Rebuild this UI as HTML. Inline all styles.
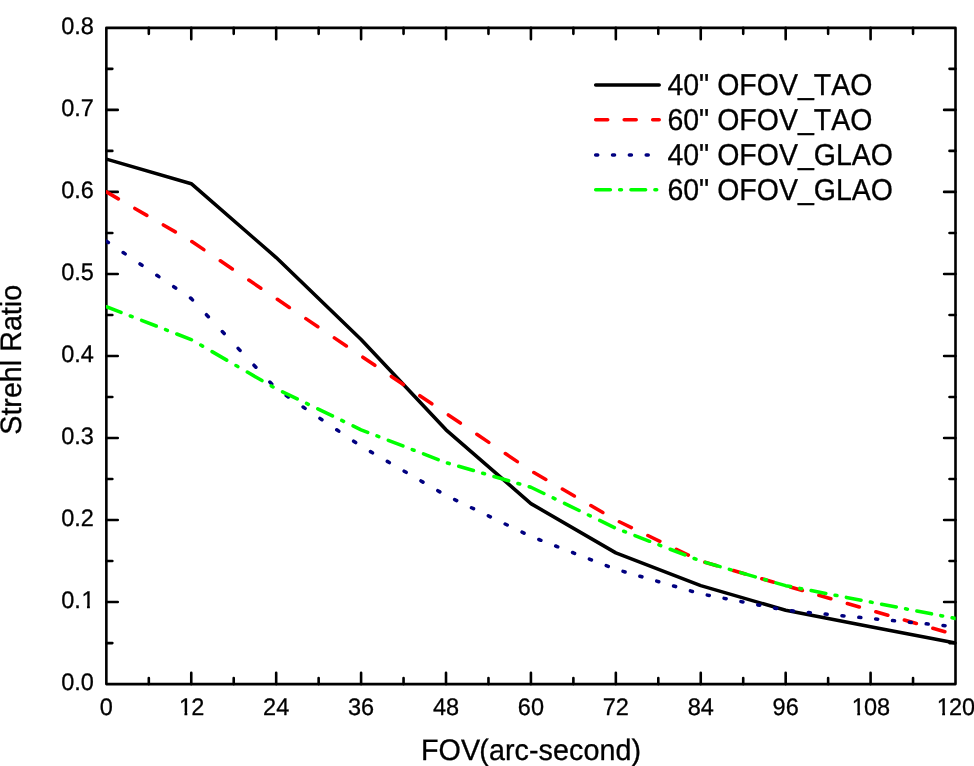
<!DOCTYPE html>
<html><head><meta charset="utf-8"><title>Strehl Ratio vs FOV</title>
<style>html,body{margin:0;padding:0;background:#fff;}body{width:974px;height:766px;overflow:hidden;}svg{display:block;will-change:transform;}text{text-rendering:geometricPrecision;font-family:"Liberation Sans",sans-serif;fill:#000;stroke:#000;stroke-width:0.3px;stroke-linejoin:round;font-kerning:none;}</style></head><body>
<svg width="974" height="766" viewBox="0 0 974 766">
<rect x="0" y="0" width="974" height="766" fill="#ffffff"/>
<rect x="106.35" y="27.85" width="849.15" height="656.25" fill="none" stroke="#000" stroke-width="2.60" stroke-linejoin="round"/>
<path d="M148.81 684.10V678.10M148.81 27.85V33.85M191.26 684.10V672.70M191.26 27.85V39.25M233.72 684.10V678.10M233.72 27.85V33.85M276.18 684.10V672.70M276.18 27.85V39.25M318.64 684.10V678.10M318.64 27.85V33.85M361.09 684.10V672.70M361.09 27.85V39.25M403.55 684.10V678.10M403.55 27.85V33.85M446.01 684.10V672.70M446.01 27.85V39.25M488.47 684.10V678.10M488.47 27.85V33.85M530.92 684.10V672.70M530.92 27.85V39.25M573.38 684.10V678.10M573.38 27.85V33.85M615.84 684.10V672.70M615.84 27.85V39.25M658.30 684.10V678.10M658.30 27.85V33.85M700.75 684.10V672.70M700.75 27.85V39.25M743.21 684.10V678.10M743.21 27.85V33.85M785.67 684.10V672.70M785.67 27.85V39.25M828.13 684.10V678.10M828.13 27.85V33.85M870.59 684.10V672.70M870.59 27.85V39.25M913.04 684.10V678.10M913.04 27.85V33.85M106.35 643.08H112.35M955.50 643.08H949.50M106.35 602.07H117.75M955.50 602.07H944.10M106.35 561.05H112.35M955.50 561.05H949.50M106.35 520.04H117.75M955.50 520.04H944.10M106.35 479.02H112.35M955.50 479.02H949.50M106.35 438.01H117.75M955.50 438.01H944.10M106.35 396.99H112.35M955.50 396.99H949.50M106.35 355.98H117.75M955.50 355.98H944.10M106.35 314.96H112.35M955.50 314.96H949.50M106.35 273.94H117.75M955.50 273.94H944.10M106.35 232.93H112.35M955.50 232.93H949.50M106.35 191.91H117.75M955.50 191.91H944.10M106.35 150.90H112.35M955.50 150.90H949.50M106.35 109.88H117.75M955.50 109.88H944.10M106.35 68.87H112.35M955.50 68.87H949.50" fill="none" stroke="#000" stroke-width="2.60" stroke-linecap="round"/>
<defs><clipPath id="pb"><rect x="106.05" y="27.85" width="849.65" height="656.25"/></clipPath></defs>
<g clip-path="url(#pb)">
<path d="M106.35 159.10L191.26 183.71L276.18 257.54L361.09 339.57L446.01 429.80L530.92 503.63L615.84 552.85L700.75 585.66L785.67 610.27L870.59 626.68L955.50 643.08" fill="none" stroke="#000000" stroke-width="3.55" stroke-linecap="round" stroke-linejoin="round"/>
<path d="M106.35 191.91L118.35 198.87M134.85 208.43L146.85 215.39M163.35 224.95L175.35 231.91M191.85 241.53L203.85 249.64M220.35 260.80L232.35 268.91M248.85 280.07L260.85 288.19M277.35 299.34L289.35 307.46M305.85 318.62L317.85 326.73M334.35 337.89L346.35 346.00M362.85 357.16L374.85 365.28M391.35 376.43L403.35 384.55M419.85 395.71L431.85 403.82M448.35 414.98L460.35 423.09M476.85 434.25L488.85 442.37M505.35 453.52L517.35 461.64M533.85 472.51L545.85 479.47M562.35 489.03L574.35 495.99M590.85 505.55L602.85 512.51M619.35 521.73L631.35 527.53M647.85 535.50L659.85 541.30M676.35 549.27L688.35 555.06M704.85 562.24L716.85 565.72M733.35 570.50L745.35 573.98M761.85 578.76L773.85 582.24M790.35 587.02L802.35 590.50M818.85 595.28L830.85 598.76M847.35 603.54L859.35 607.02M875.85 611.80L887.85 615.28M904.35 620.06L916.35 623.54M932.85 628.32L944.85 631.79" fill="none" stroke="#ff0000" stroke-width="3.55" stroke-linecap="round" stroke-linejoin="round"/>
<path d="M106.35 241.13L108.35 242.48M123.19 252.52L125.19 253.87M140.03 263.91L142.03 265.26M156.87 275.29L158.87 276.65M173.71 286.68L175.71 288.03M190.55 298.07L191.26 298.55L192.47 299.84M206.44 314.68L208.32 316.68M222.29 331.52L224.17 333.52M238.13 348.36L240.02 350.36M253.98 365.20L255.86 367.20M269.83 382.04L271.71 384.04M286.27 395.61L288.27 396.96M303.11 407.00L305.11 408.35M319.95 418.39L321.95 419.74M336.79 429.77L338.79 431.13M353.63 441.16L355.63 442.51M370.47 451.64L372.47 452.80M387.31 461.40L389.31 462.56M404.15 471.17L406.15 472.32M420.99 480.93L422.99 482.09M437.83 490.69L439.83 491.85M454.67 499.61L456.67 500.58M471.51 507.75L473.51 508.71M488.35 515.88L490.35 516.85M505.19 524.01L507.19 524.98M522.03 532.15L524.03 533.11M538.87 539.51L540.87 540.29M555.71 546.02L557.71 546.79M572.55 552.53L574.55 553.30M589.39 559.04L591.39 559.81M606.23 565.54L608.23 566.32M623.07 571.35L625.07 571.93M639.91 576.23L641.91 576.81M656.75 581.11L658.75 581.69M673.59 585.99L675.59 586.57M690.43 590.87L692.43 591.45M707.27 595.12L709.27 595.51M724.11 598.38L726.11 598.76M740.95 601.63L742.95 602.02M757.79 604.89L759.79 605.27M774.63 608.14L776.63 608.53M791.47 610.83L793.47 611.03M808.31 612.46L810.31 612.65M825.15 614.09L827.15 614.28M841.99 615.71L843.99 615.91M858.83 617.34L860.83 617.53M875.67 618.97L877.67 619.16M892.51 620.59L894.51 620.79M909.35 622.22L911.35 622.41M926.19 623.85L928.19 624.04M943.03 625.47L945.03 625.67" fill="none" stroke="#000080" stroke-width="3.55" stroke-linecap="round" stroke-linejoin="round"/>
<path d="M106.35 306.76L121.00 312.42M130.30 316.01L132.10 316.71M141.59 320.37L156.24 326.03M165.54 329.63L167.34 330.32M176.83 333.99L191.26 339.57L191.48 339.69M200.78 345.08L202.58 346.13M212.07 351.63L226.72 360.12M236.02 365.51L237.82 366.55M247.31 372.05L261.96 380.55M271.26 385.94L273.06 386.98M282.55 391.86L297.20 398.94M306.50 403.43L308.30 404.30M317.79 408.89L332.44 415.96M341.74 420.45L343.54 421.32M353.03 425.91L361.09 429.80L367.68 432.35M376.98 435.94L378.78 436.64M388.27 440.30L402.92 445.96M412.22 449.56L414.02 450.25M423.51 453.92L438.16 459.58M447.46 463.04L449.26 463.56M458.75 466.31L473.40 470.55M482.70 473.25L484.50 473.77M493.99 476.52L508.64 480.77M517.94 483.46L519.74 483.98M529.23 486.73L530.92 487.23L543.88 493.48M553.18 497.97L554.98 498.84M564.47 503.43L579.12 510.50M588.42 515.00L590.22 515.87M599.71 520.45L614.36 527.53M623.66 531.26L625.46 531.96M634.95 535.63L649.60 541.29M658.90 544.88L660.70 545.58M670.19 549.24L684.84 554.90M694.14 558.50L695.94 559.19M705.43 562.41L720.08 566.65M729.38 569.35L731.18 569.87M740.67 572.62L755.32 576.87M764.62 579.56L766.42 580.08M775.91 582.83L785.67 585.66L790.56 586.61M799.86 588.40L801.66 588.75M811.15 590.59L825.80 593.42M835.10 595.21L836.90 595.56M846.39 597.39L861.04 600.22M870.34 602.02L870.59 602.07L872.14 602.37M881.63 604.20L896.28 607.03M905.58 608.83L907.38 609.18M916.87 611.01L931.52 613.84M940.82 615.64L942.62 615.99M952.11 617.82L955.50 618.48" fill="none" stroke="#00ff00" stroke-width="3.55" stroke-linecap="round" stroke-linejoin="round"/>
</g>
<g transform="translate(106.35 714.70) scale(1 1.0200)"><text font-size="23.50" text-anchor="middle">0</text></g>
<g transform="translate(191.26 714.70) scale(1 1.0200)"><text x="-12.32 0.00" font-size="23.50" text-anchor="start">12</text><rect x="-11.83" y="-2.66" width="5.02" height="3.96" fill="#fff"/><rect x="-3.93" y="-2.66" width="4.84" height="3.96" fill="#fff"/></g>
<g transform="translate(276.18 714.70) scale(1 1.0200)"><text font-size="23.50" text-anchor="middle">24</text></g>
<g transform="translate(361.09 714.70) scale(1 1.0200)"><text font-size="23.50" text-anchor="middle">36</text></g>
<g transform="translate(446.01 714.70) scale(1 1.0200)"><text font-size="23.50" text-anchor="middle">48</text></g>
<g transform="translate(530.92 714.70) scale(1 1.0200)"><text font-size="23.50" text-anchor="middle">60</text></g>
<g transform="translate(615.84 714.70) scale(1 1.0200)"><text font-size="23.50" text-anchor="middle">72</text></g>
<g transform="translate(700.75 714.70) scale(1 1.0200)"><text font-size="23.50" text-anchor="middle">84</text></g>
<g transform="translate(785.67 714.70) scale(1 1.0200)"><text font-size="23.50" text-anchor="middle">96</text></g>
<g transform="translate(870.59 714.70) scale(1 1.0200)"><text x="-18.85 -6.53 6.53" font-size="23.50" text-anchor="start">108</text><rect x="-18.36" y="-2.66" width="5.02" height="3.96" fill="#fff"/><rect x="-10.47" y="-2.66" width="4.84" height="3.96" fill="#fff"/></g>
<g transform="translate(955.50 714.70) scale(1 1.0200)"><text x="-18.85 -6.53 6.53" font-size="23.50" text-anchor="start">120</text><rect x="-18.36" y="-2.66" width="5.02" height="3.96" fill="#fff"/><rect x="-10.47" y="-2.66" width="4.84" height="3.96" fill="#fff"/></g>
<g transform="translate(93.80 690.30) scale(1 1.0200)"><text font-size="23.50" text-anchor="end">0.0</text></g>
<g transform="translate(93.80 608.27) scale(1 1.0200)"><text x="-32.67 -19.60 -12.32" font-size="23.50" text-anchor="start">0.1</text><rect x="-11.83" y="-2.66" width="5.02" height="3.96" fill="#fff"/><rect x="-3.93" y="-2.66" width="4.84" height="3.96" fill="#fff"/></g>
<g transform="translate(93.80 526.24) scale(1 1.0200)"><text font-size="23.50" text-anchor="end">0.2</text></g>
<g transform="translate(93.80 444.21) scale(1 1.0200)"><text font-size="23.50" text-anchor="end">0.3</text></g>
<g transform="translate(93.80 362.18) scale(1 1.0200)"><text font-size="23.50" text-anchor="end">0.4</text></g>
<g transform="translate(93.80 280.14) scale(1 1.0200)"><text font-size="23.50" text-anchor="end">0.5</text></g>
<g transform="translate(93.80 198.11) scale(1 1.0200)"><text font-size="23.50" text-anchor="end">0.6</text></g>
<g transform="translate(93.80 116.08) scale(1 1.0200)"><text font-size="23.50" text-anchor="end">0.7</text></g>
<g transform="translate(93.80 34.05) scale(1 1.0200)"><text font-size="23.50" text-anchor="end">0.8</text></g>
<g transform="translate(421.10 760.00) scale(1 1.0300)"><text font-size="28.70" text-anchor="start">FOV<tspan dx="-0.8" letter-spacing="0.07">(arc-second)</tspan></text></g>
<g transform="translate(20.50 359.80) rotate(-90) scale(1 1.0300)"><text font-size="28.70" text-anchor="middle">Strehl Ratio</text></g>
<path d="M595.70 84.90L659.20 84.90" fill="none" stroke="#000000" stroke-width="3.55" stroke-linecap="round" stroke-linejoin="round"/>
<g transform="translate(667.40 94.70) scale(1 1.0600)"><text font-size="28.50" text-anchor="start">40&quot; OFOV<tspan dy="-0.75">_</tspan><tspan dy="0.75">TAO</tspan></text></g>
<path d="M595.70 119.80L607.70 119.80M624.20 119.80L636.20 119.80M652.70 119.80L659.20 119.80" fill="none" stroke="#ff0000" stroke-width="3.55" stroke-linecap="round" stroke-linejoin="round"/>
<g transform="translate(667.40 129.60) scale(1 1.0600)"><text font-size="28.50" text-anchor="start">60&quot; OFOV<tspan dy="-0.75">_</tspan><tspan dy="0.75">TAO</tspan></text></g>
<path d="M595.70 154.90L597.70 154.90M612.54 154.90L614.54 154.90M629.38 154.90L631.38 154.90M646.22 154.90L648.22 154.90" fill="none" stroke="#000080" stroke-width="3.55" stroke-linecap="round" stroke-linejoin="round"/>
<g transform="translate(667.40 164.70) scale(1 1.0600)"><text font-size="28.50" text-anchor="start">40&quot; OFOV<tspan dy="-0.75">_</tspan><tspan dy="0.75">GLAO</tspan></text></g>
<path d="M595.70 189.80L610.35 189.80M619.65 189.80L621.45 189.80M630.94 189.80L645.59 189.80M654.89 189.80L656.69 189.80" fill="none" stroke="#00ff00" stroke-width="3.55" stroke-linecap="round" stroke-linejoin="round"/>
<g transform="translate(667.40 199.60) scale(1 1.0600)"><text font-size="28.50" text-anchor="start">60&quot; OFOV<tspan dy="-0.75">_</tspan><tspan dy="0.75">GLAO</tspan></text></g>
</svg></body></html>
